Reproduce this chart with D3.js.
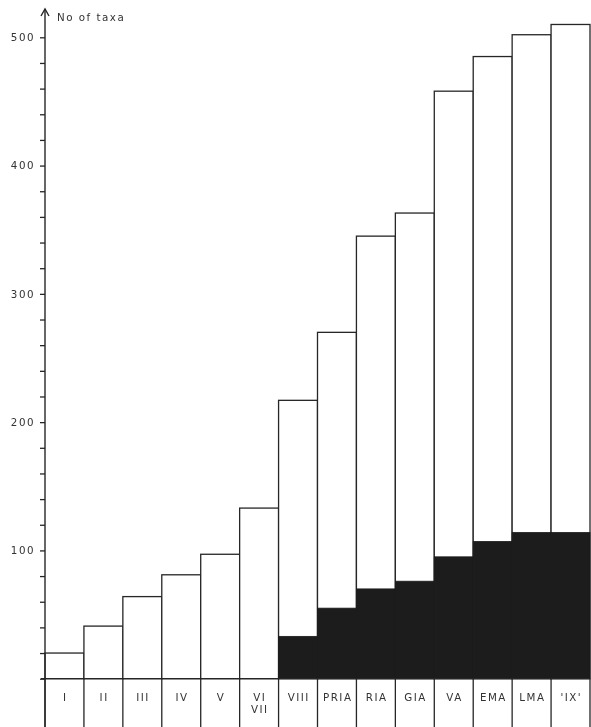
<!DOCTYPE html>
<html>
<head>
<meta charset="utf-8">
<script src="https://cdn.jsdelivr.net/npm/d3@7"></script>
<style>
  html, body { margin: 0; padding: 0; background: #fff; }
  svg { display: block; }
  text { font-family: "DejaVu Sans", sans-serif; fill: #333; }
  .txt { opacity: 0.999; will-change: transform; }
</style>
</head>
<body>
<svg id="chart" width="591" height="727"></svg>
<script>
// ---- data ----
const categories = ["I", "II", "III", "IV", "V", "VI\nVII", "VIII", "PRIA", "RIA", "GIA", "VA", "EMA", "LMA", "'IX'"];
const totalTaxa  = [20, 41, 64, 81, 97, 133, 217, 270, 345, 363, 458, 485, 502, 510];
const darkTaxa   = [0, 0, 0, 0, 0, 0, 33, 55, 70, 76, 95, 107, 114, 114];
const majorTicks = [100, 200, 300, 400, 500];
const minorStep  = 20;
const yLabel     = "No of taxa";

// ---- layout ----
const W = 591, H = 727;
const axisX = 45, plotRight = 590;
const baseY = 678.7, topY = 37.3;
const ink = "#262626";
const fs = 10.3, ls = 1.5;

const svg = d3.select("#chart");

const x = d3.scaleBand().domain(categories).range([axisX, plotRight]).padding(0);
const y = d3.scaleLinear().domain([0, 500]).range([baseY, topY]);

const data = categories.map((c, i) => ({ c, total: totalTaxa[i], dark: darkTaxa[i] }));

// bars (white with outline)
svg.append("g").selectAll("rect.tot").data(data).join("rect")
  .attr("class", "tot")
  .attr("x", d => x(d.c))
  .attr("y", d => y(d.total))
  .attr("width", x.bandwidth())
  .attr("height", d => y(0) - y(d.total))
  .attr("fill", "#fff")
  .attr("stroke", ink)
  .attr("stroke-width", 1.3);

// dark portions
svg.append("g").selectAll("rect.dark").data(data.filter(d => d.dark > 0)).join("rect")
  .attr("class", "dark")
  .attr("x", d => x(d.c))
  .attr("y", d => y(d.dark))
  .attr("width", x.bandwidth())
  .attr("height", d => y(0) - y(d.dark))
  .attr("fill", "#1c1c1c")
  .attr("stroke", "#1c1c1c")
  .attr("stroke-width", 0.8);

// category separators below baseline
const bounds = categories.map(c => x(c)).concat([x(categories[categories.length - 1]) + x.bandwidth()]);
svg.append("g").selectAll("line").data(bounds).join("line")
  .attr("x1", d => d).attr("x2", d => d)
  .attr("y1", y(0)).attr("y2", H)
  .attr("stroke", ink).attr("stroke-width", 1.3);

// baseline
svg.append("line")
  .attr("x1", axisX - 4).attr("x2", plotRight)
  .attr("y1", y(0)).attr("y2", y(0))
  .attr("stroke", ink).attr("stroke-width", 1.3);

// category labels
const lab = svg.append("g").attr("class", "txt").selectAll("text").data(categories).join("text")
  .attr("x", d => x(d) + x.bandwidth() / 2)
  .attr("y", 701)
  .attr("text-anchor", "middle")
  .attr("font-size", fs)
  .attr("letter-spacing", ls);
lab.each(function(d) {
  const parts = d.split("\n");
  const t = d3.select(this);
  parts.forEach((p, i) => {
    t.append("tspan").attr("x", x(d) + x.bandwidth() / 2 + ls / 2).attr("dy", i === 0 ? 0 : 12).text(p);
  });
});

// y axis
const tickVals = d3.range(0, 501, minorStep);
const axis = d3.axisLeft(y)
  .tickValues(tickVals)
  .tickSize(5)
  .tickPadding(5)
  .tickFormat(d => majorTicks.includes(d) ? d : "");
const gAxis = svg.append("g").attr("class", "txt").attr("transform", `translate(${axisX},0)`).call(axis);
gAxis.select(".domain").remove();
gAxis.selectAll(".tick line").attr("stroke", ink).attr("stroke-width", 1.3);
gAxis.selectAll(".tick text")
  .attr("font-family", "DejaVu Sans, sans-serif")
  .attr("font-size", fs)
  .attr("letter-spacing", ls)
  .attr("fill", "#333");

// axis line with arrow
svg.append("line")
  .attr("x1", axisX).attr("x2", axisX)
  .attr("y1", H).attr("y2", 9)
  .attr("stroke", ink).attr("stroke-width", 1.4);
svg.append("path")
  .attr("d", `M${axisX - 4},${16} L${axisX},${9} L${axisX + 4},${16}`)
  .attr("fill", "none").attr("stroke", ink).attr("stroke-width", 1.4);

// y label
svg.append("g").attr("class", "txt").append("text")
  .attr("x", 57).attr("y", 21)
  .attr("font-size", fs)
  .attr("letter-spacing", ls)
  .text(yLabel);
</script>
</body>
</html>
